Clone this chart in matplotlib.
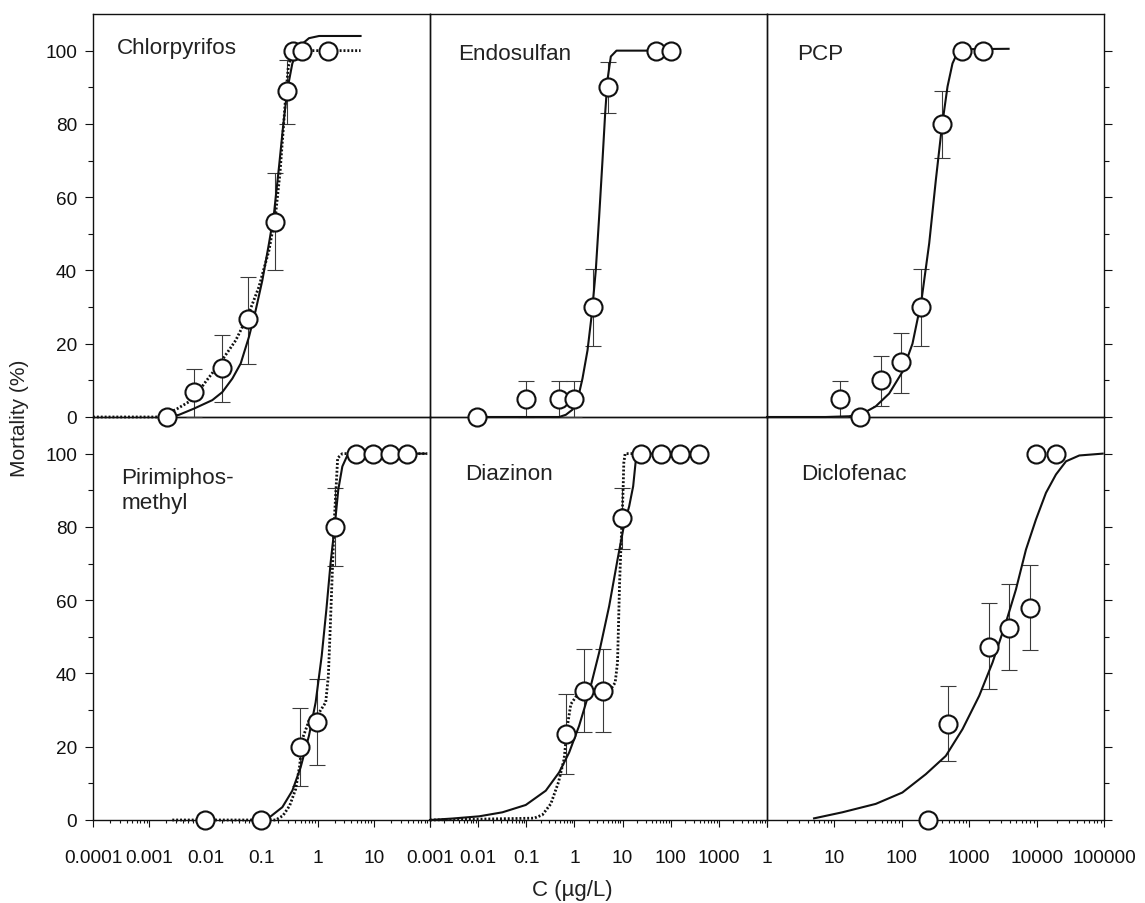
import numpy as np
import matplotlib
matplotlib.use('Agg')
import matplotlib.pyplot as plt
from matplotlib.ticker import FixedLocator, FixedFormatter, LogLocator, NullLocator, NullFormatter

plt.rcParams['font.family'] = ['Liberation Sans', 'DejaVu Sans']
nan = np.nan

# ---- Chlorpyrifos
chl_c = [0.0021, 0.0064, 0.0195, 0.058, 0.174, 0.29, 0.37, 0.52, 1.5]
chl_m = [0, 6.7, 13.3, 26.7, 53.3, 88.9, 100, 100, 100]
chl_lo = [nan, 0, 4.1, 14.6, 40.0, 80.1, nan, nan, nan]
chl_hi = [nan, 13.2, 22.3, 38.3, 66.5, 97.5, nan, nan, nan]
chl_fit_c = [0.00225, 0.0034, 0.0063, 0.0133, 0.0201, 0.0303, 0.0426, 0.0599, 0.0787, 0.1035,
             0.136, 0.167, 0.205, 0.242, 0.288, 0.354, 0.466, 0.70, 1.06, 5.8]
chl_fit_m = [0, 0.6, 2.3, 4.6, 6.8, 10.5, 14.6, 21.9, 29.1, 37.3,
             47.4, 55.6, 68.3, 79.2, 89.3, 96.5, 101.1, 103.4, 104, 104]
chl_dot_c = [0.0001, 0.0015, 0.00296, 0.00587, 0.0101, 0.0188, 0.0347, 0.056, 0.090, 0.136,
             0.179, 0.213, 0.241, 0.269, 0.30, 0.354, 0.466, 5.8]
chl_dot_m = [0, 0, 2.0, 4.7, 9.6, 15.0, 20.9, 27.3, 35.5, 45.5,
             55.6, 66.5, 77.4, 87.4, 95.6, 99.7, 100, 100]

# ---- Endosulfan
end_c = [0.0096, 0.098, 0.48, 0.99, 2.45, 4.87, 49, 101]
end_m = [0, 5, 5, 5, 30, 90, 100, 100]
end_lo = [nan, 0, 0, 0, 19.3, 83.1, nan, nan]
end_hi = [nan, 9.8, 9.8, 9.8, 40.3, 96.8, nan, nan]
end_fit_c = [0.0096, 0.48, 0.662, 0.91, 1.16, 1.47, 1.87, 2.30, 2.78, 3.26,
             3.83, 4.35, 4.86, 5.70, 7.48, 41.9]
end_fit_m = [0, 0, 0.6, 2.0, 4.6, 10.5, 18.2, 28.2, 40.1, 54.6,
             70.1, 82.9, 92.0, 98.4, 100, 100]

# ---- PCP
pcp_c = [12.1, 24, 49.3, 98.9, 196, 393, 769, 1578]
pcp_m = [5, 0, 10, 15, 30, 80, 100, 100]
pcp_lo = [0, nan, 2.9, 6.6, 19.3, 70.6, nan, nan]
pcp_hi = [9.8, nan, 16.6, 23.0, 40.3, 89.1, nan, nan]
pcp_fit_c = [1, 7.4, 16.5, 26, 41, 64.9, 102, 144, 196, 255,
             320, 393, 477, 565, 671, 843, 3840]
pcp_fit_m = [0, 0, 0.2, 0.9, 2.9, 6.4, 12.3, 20.0, 31.9, 47.4,
             64.7, 79.2, 90.2, 96.5, 99.5, 100.4, 100.5]

# ---- Pirimiphos-methyl
pir_c = [0.0099, 0.098, 0.484, 0.99, 2.01, 4.88, 9.66, 19.4, 39.5]
pir_m = [0, 0, 20, 26.7, 80, 100, 100, 100, 100]
pir_lo = [nan, nan, 9.4, 15.0, 69.3, nan, nan, nan, nan]
pir_hi = [nan, nan, 30.7, 38.6, 90.5, nan, nan, nan, nan]
pir_fit_c = [0.098, 0.146, 0.235, 0.354, 0.498, 0.70, 0.92, 1.18, 1.43, 1.70,
             2.01, 2.33, 2.75, 3.37, 4.75, 83.8]
pir_fit_m = [0, 1.0, 3.5, 8.0, 14.4, 23.0, 32.1, 44.8, 57.5, 70.2,
             80.2, 90.2, 96.5, 99.5, 100, 100]
pir_dot_c = [0.00258, 0.179, 0.241, 0.317, 0.405, 0.478, 0.533, 0.70, 1.06, 1.39,
             1.55, 1.68, 1.83, 1.98, 2.15, 2.27, 2.75, 89.7]
pir_dot_m = [0, 0, 1.2, 3.9, 8.4, 14.8, 22.1, 27.1, 29.3, 32.1,
             39.3, 53.0, 68.4, 82.0, 92.0, 98.8, 100, 100]

# ---- Diazinon
dia_c = [0.671, 1.57, 3.89, 9.67, 24.0, 62.5, 158, 392]
dia_m = [23.6, 35.1, 35.1, 82.3, 100, 100, 100, 100]
dia_lo = [12.5, 23.9, 23.9, 74.1, nan, nan, nan, nan]
dia_hi = [34.3, 46.6, 46.6, 90.5, nan, nan, nan, nan]
dia_fit_c = [0.001, 0.00291, 0.01044, 0.0319, 0.0975, 0.254, 0.481, 0.776, 1.25, 2.02,
             3.26, 5.27, 7.86, 10.8, 13.7, 16.6, 18.9, 20.8, 538]
dia_fit_m = [0, 0.4, 1.0, 2.1, 4.1, 8.0, 13.0, 18.4, 25.7, 34.8,
             45.7, 58.4, 71.1, 80.7, 85.6, 91.1, 98.4, 100, 100]
dia_dot_c = [0.001, 0.145, 0.216, 0.323, 0.466, 0.610, 0.716, 0.84, 1.16, 2.37,
             5.70, 7.02, 7.85, 8.23, 8.63, 9.20, 9.82, 10.3, 10.6, 11.3, 16.1]
dia_dot_m = [0, 0.5, 1.4, 4.4, 10.3, 16.6, 25.7, 31.6, 34.3, 35.0,
             35.7, 37.5, 43.0, 53.0, 63.9, 73.8, 82.9, 91.1, 97.5, 100, 100]

# ---- Diclofenac
dic_c = [246, 488, 1983, 3882, 7870, 9775, 19370]
dic_m = [0, 26.3, 47.3, 52.5, 57.9, 100, 100]
dic_lo = [nan, 16.0, 35.7, 40.9, 46.3, nan, nan]
dic_hi = [nan, 36.6, 59.1, 64.3, 69.6, nan, nan]
dic_fit_c = [4.99, 13.1, 41.1, 102, 227, 450, 796, 1408, 2221, 3505,
             4933, 6950, 9770, 13770, 19360, 27290, 43020, 95500]
dic_fit_m = [0.45, 2.1, 4.4, 7.5, 12.5, 17.5, 24.8, 33.9, 43.0, 53.9,
             62.9, 73.8, 82.0, 89.3, 94.3, 97.9, 99.5, 100]

names = ['Chlorpyrifos', 'Endosulfan', 'PCP', 'Pirimiphos-\nmethyl', 'Diazinon', 'Diclofenac']
xlims = [(1e-4, 1e2), (1e-3, 1e4), (1, 1e5)]
xticklabels = [['0.0001', '0.001', '0.01', '0.1', '1', '10', ''],
               ['0.001', '0.01', '0.1', '1', '10', '100', '1000', ''],
               ['1', '10', '100', '1000', '10000', '100000']]

panels = [
    (chl_c, chl_m, chl_lo, chl_hi, chl_fit_c, chl_fit_m, chl_dot_c, chl_dot_m),
    (end_c, end_m, end_lo, end_hi, end_fit_c, end_fit_m, None, None),
    (pcp_c, pcp_m, pcp_lo, pcp_hi, pcp_fit_c, pcp_fit_m, None, None),
    (pir_c, pir_m, pir_lo, pir_hi, pir_fit_c, pir_fit_m, pir_dot_c, pir_dot_m),
    (dia_c, dia_m, dia_lo, dia_hi, dia_fit_c, dia_fit_m, dia_dot_c, dia_dot_m),
    (dic_c, dic_m, dic_lo, dic_hi, dic_fit_c, dic_fit_m, None, None),
]
# baseline of the last text line, axes fraction
label_pos = [(0.071, 0.903), (0.083, 0.888), (0.090, 0.888),
             (0.084, 0.775), (0.103, 0.847), (0.102, 0.847)]

fig = plt.figure(figsize=(11.45, 9.04), dpi=100)
L, R, B, T = 93 / 1145, 1104 / 1145, 1 - 821 / 904, 1 - 15 / 904
w = (R - L) / 3
h = (T - B) / 2

for k, (c, m, lo, hi, fc, fm, dc, dm) in enumerate(panels):
    row, col = divmod(k, 3)
    ax = fig.add_axes([L + col * w, B + (1 - row) * h, w, h])
    ax.set_facecolor('none')
    if row == 0:
        ax.set_zorder(2)
    ax.set_xscale('log')
    ax.set_xlim(*xlims[col])
    ax.set_ylim(0, 110)
    for s in ax.spines.values():
        s.set_linewidth(1.0)
        s.set_color('#111111')

    c = np.array(c, float); m = np.array(m, float)
    lo = np.array(lo, float); hi = np.array(hi, float)
    ok = ~np.isnan(lo)
    ax.errorbar(c[ok], m[ok], yerr=[m[ok] - lo[ok], hi[ok] - m[ok]], fmt='none',
                ecolor='#3a3a3a', elinewidth=0.8, capsize=6, capthick=0.8,
                zorder=3, clip_on=False)
    if dc is not None:
        ax.plot(dc, dm, color='#111111', lw=2.0, linestyle=(0, (0.7, 0.7)),
                zorder=4, clip_on=False)
    ax.plot(fc, fm, color='#111111', lw=1.5, zorder=4, clip_on=False)
    ax.plot(c, m, 'o', ms=13, mfc='white', mec='#111111', mew=1.5,
            zorder=5, clip_on=False)

    tx, ty = label_pos[k]
    ax.text(tx, ty, names[k], transform=ax.transAxes, fontsize=16.2,
            color='#222222', va='baseline', ha='left', linespacing=1.25)

    # y axis
    ax.yaxis.set_major_locator(FixedLocator([0, 20, 40, 60, 80, 100]))
    ax.yaxis.set_minor_locator(FixedLocator([10, 30, 50, 70, 90]))
    ax.tick_params(axis='y', which='both', direction='out', width=0.8,
                   labelsize=13.7, pad=5.5, colors='#111111')
    ax.tick_params(axis='y', which='major', length=6)
    ax.tick_params(axis='y', which='minor', length=3.5)
    if col == 0:
        ax.tick_params(axis='y', which='both', left=True, right=False, labelleft=True)
    elif col == 2:
        ax.tick_params(axis='y', which='both', left=False, right=True,
                       labelleft=False, labelright=False)
    else:
        ax.tick_params(axis='y', which='both', left=False, right=False, labelleft=False)

    # x axis
    lo_dec, hi_dec = np.log10(xlims[col])
    majors = 10.0 ** np.arange(lo_dec, hi_dec + 1)
    if row == 1:
        ax.xaxis.set_major_locator(FixedLocator(majors))
        ax.xaxis.set_major_formatter(FixedFormatter(xticklabels[col]))
        ax.xaxis.set_minor_locator(LogLocator(base=10, subs=np.arange(2, 10), numticks=20))
        ax.xaxis.set_minor_formatter(NullFormatter())
        ax.tick_params(axis='x', which='both', direction='out', width=0.8,
                       labelsize=13.7, pad=16, colors='#111111')
        ax.tick_params(axis='x', which='major', length=5)
        ax.tick_params(axis='x', which='minor', length=2.5)
    else:
        ax.xaxis.set_major_locator(NullLocator())
        ax.xaxis.set_minor_locator(NullLocator())

fig.text(20 / 1145, 1 - 418 / 904, 'Mortality (%)', rotation=90, fontsize=15,
         ha='center', va='center', color='#222222')
fig.text(572 / 1145, 1 - 891 / 904, 'C (\u00b5g/L)', fontsize=16,
         ha='center', va='center', color='#222222')

fig.savefig('out.png', dpi=100, facecolor='white')
